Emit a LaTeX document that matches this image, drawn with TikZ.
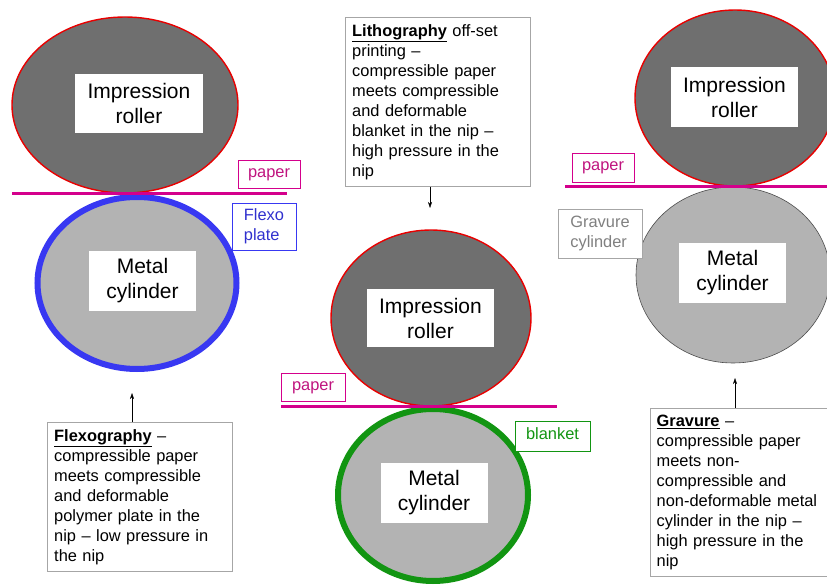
\documentclass[tikz,border=0pt]{standalone}
\usepackage{fontspec}
\setmainfont{Liberation Sans}
\usetikzlibrary{positioning,arrows.meta,shapes.geometric}
\definecolor{rollgray}{HTML}{6F6F6F}
\definecolor{cylgray}{HTML}{B3B3B3}
\definecolor{rollred}{HTML}{E80000}
\definecolor{plateblue}{HTML}{3838F2}
\definecolor{blanketgreen}{HTML}{129512}
\definecolor{papermag}{HTML}{D4008C}
\definecolor{papertext}{HTML}{C0147F}

\begin{document}
\begin{tikzpicture}[
  x=1pt, y=-1pt,
  roller/.style={
    ellipse,
    draw=rollred,
    line width=1.4pt,
    fill=rollgray,
    inner sep=0pt
  },
  cylinder/.style={
    ellipse,
    fill=cylgray,
    inner sep=0pt
  },
  tag/.style={
    fill=white,
    align=center,
    inner sep=0pt,
    font=\fontsize{21}{25}\selectfont
  },
  note/.style={
    draw=gray!70,
    fill=white,
    align=left,
    anchor=north west,
    inner sep=7pt,
    font=\fontsize{16.4}{20}\selectfont
  },
  label/.style={
    draw,
    fill=white,
    inner sep=0pt,
    font=\fontsize{16.4}{20}\selectfont
  },
  oneline/.style={text height=10pt, text depth=3.5pt},
  paperline/.style={papermag, line width=3pt},
  arr/.style={-{Stealth[length=6pt,width=4pt]}, thin}
]

\useasboundingbox (0,0) rectangle (827,585);

% flexography
\node[roller, minimum width=226pt, minimum height=176pt] (impA) at (125,105) {};
\node[cylinder, draw=plateblue, line width=6pt, minimum width=199pt, minimum height=172pt] (cylA) at (137,283) {};
\coordinate (paperA1) at (12,194);
\coordinate (paperA2) at (287,194);
\draw[paperline] (paperA1) -- (paperA2);
\node[tag, minimum width=128pt, minimum height=59pt] (impAtag) at (139,103.5) {Impression\\roller};
\node[tag, minimum width=107pt, minimum height=60pt] (cylAtag) at (142.5,281) {Metal\\cylinder};
\node[label, oneline, draw=papermag, text=papertext, minimum width=62pt, minimum height=28pt] (paperAlbl) at (269,174) {paper};
\node[label, align=left, draw=plateblue, text=plateblue!85!black, minimum width=64pt, minimum height=47pt] (plate) at (264,226.5) {Flexo\\plate};
\node[note, text width=171pt] (flexonote) at (47,422)
{\underline{\textbf{Flexography}} --\\
compressible paper\\
meets compressible\\
and deformable\\
polymer plate in the\\
nip -- low pressure in\\
the nip};
\coordinate (flexotip) at (132,393);
\draw[arr] (flexotip |- flexonote.north) -- (flexotip);

% lithography
\node[note, text width=171pt] (lithonote) at (345,17)
{\underline{\textbf{Lithography}} off-set\\
printing --\\
compressible paper\\
meets compressible\\
and deformable\\
blanket in the nip --\\
high pressure in the\\
nip};
\node[roller, minimum width=200pt, minimum height=176pt] (impB) at (431,318) {};
\node[cylinder, draw=blanketgreen, line width=6pt, minimum width=190pt, minimum height=172pt] (cylB) at (433,495) {};
\coordinate (paperB1) at (281,406);
\coordinate (paperB2) at (557,406);
\draw[paperline] (paperB1) -- (paperB2);
\node[tag, minimum width=127pt, minimum height=58pt] (impBtag) at (430.5,318) {Impression\\roller};
\node[tag, minimum width=107pt, minimum height=60pt] (cylBtag) at (434,493) {Metal\\cylinder};
\node[label, oneline, draw=papermag, text=papertext, minimum width=64pt, minimum height=28pt] (paperBlbl) at (313,387) {paper};
\node[label, oneline, draw=blanketgreen, text=blanketgreen, minimum width=75pt, minimum height=30pt] (blanket) at (552.5,436) {blanket};
\coordinate (lithotip) at (430,208);
\draw[arr] (lithotip |- lithonote.south) -- (lithotip);

% gravure
\node[roller, minimum width=200pt, minimum height=176pt] (impC) at (735,98) {};
\node[cylinder, draw=black!70, line width=0.6pt, minimum width=194pt, minimum height=176pt] (cylC) at (733,275) {};
\coordinate (paperC1) at (565,187);
\coordinate (paperC2) at (827,187);
\draw[paperline] (paperC1) -- (paperC2);
\node[tag, minimum width=127pt, minimum height=60pt] (impCtag) at (734.5,97) {Impression\\roller};
\node[tag, minimum width=107pt, minimum height=60pt] (cylCtag) at (732.5,273) {Metal\\cylinder};
\node[label, oneline, draw=papermag, text=papertext, minimum width=62pt, minimum height=29pt] (paperClbl) at (603,167.5) {paper};
\node[label, align=left, draw=gray!70, text=gray, minimum width=84pt, minimum height=49pt] (gravcyl) at (600,233.5) {Gravure\\cylinder};
\node[note, text width=166pt, inner sep=6.5pt] (gravnote) at (650,408)
{\underline{\textbf{Gravure}} --\\
compressible paper\\
meets non-\\
compressible and\\
non-deformable metal\\
cylinder in the nip --\\
high pressure in the\\
nip};
\coordinate (gravtip) at (735,378);
\draw[arr] (gravtip |- gravnote.north) -- (gravtip);

\end{tikzpicture}
\end{document}
